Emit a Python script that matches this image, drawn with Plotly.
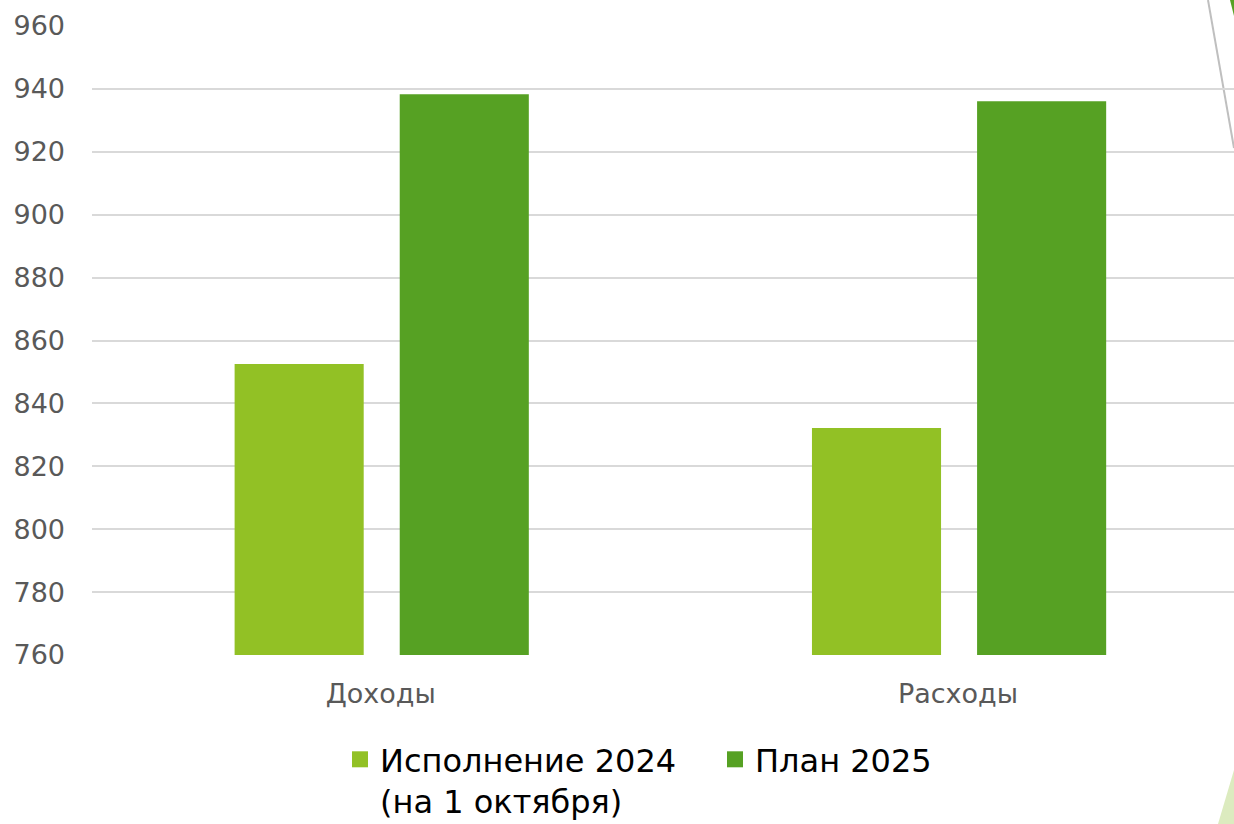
import plotly.graph_objects as go

categories = ["Доходы", "Расходы"]
series_names = ["Исполнение 2024<br>(на 1 октября)", "План 2025"]
values_2024 = [852.5, 832.2]
values_2025 = [938.3, 936.1]
y_ticks = [760, 780, 800, 820, 840, 860, 880, 900, 920, 940, 960]

colors = ["#92C125", "#56A123"]
FONT = "DejaVu Sans"

W, H = 1234, 824
ML, MR, MT, MB = 92, 0, 26, 169

fig = go.Figure()
bar_w = 0.2236
offsets = [-0.2530, 0.0330]
for name, vals, col, off in zip(series_names, [values_2024, values_2025], colors, offsets):
    fig.add_trace(go.Bar(
        x=categories, y=vals, name=name,
        marker=dict(color=col, line=dict(width=0)),
        width=bar_w, offset=off, showlegend=False,
    ))
    # legend proxy with larger square symbol
    fig.add_trace(go.Scatter(
        x=[None], y=[None], mode="markers", name=name,
        marker=dict(symbol="square", size=17, color=col),
        showlegend=True,
    ))

fig.update_layout(
    width=W, height=H,
    margin=dict(l=ML, r=MR, t=MT, b=MB, pad=0, autoexpand=False),
    plot_bgcolor="white", paper_bgcolor="white",
    barmode="overlay",
    font=dict(family=FONT, color="#595959", size=27),
    legend=dict(
        orientation="h", x=(340 - ML) / (W - ML - MR), xanchor="left",
        y=-(732 - (H - MB)) / (H - MT - MB), yanchor="top",
        font=dict(family=FONT, size=32, color="#000000"),
        itemsizing="trace", valign="top", entrywidth=330, tracegroupgap=0,
        itemwidth=30,
    ),
    xaxis=dict(
        range=[-0.5, 1.478], showgrid=False, zeroline=False,
        showline=False, ticks="", ticklabelstandoff=20,
        tickfont=dict(size=27, color="#595959", family=FONT),
        fixedrange=True,
    ),
    yaxis=dict(
        range=[760, 960], tickvals=y_ticks, showgrid=True,
        gridcolor="#D9D9D9", gridwidth=2, zeroline=False, showline=False,
        ticks="", ticklabelstandoff=26,
        tickfont=dict(size=27, color="#595959", family=FONT),
        fixedrange=True,
    ),
)

# decorative elements at the right edge (slide background)
fig.add_shape(type="line", xref="paper", yref="paper",
              x0=(1208 - ML) / (W - ML), y0=(H - MB) / (H - MT - MB) + 0.0,
              x1=(1234 - ML) / (W - ML), y1=((H - MB) - 148) / (H - MT - MB),
              line=dict(color="#BFBFBF", width=2), layer="below")
fig.add_shape(type="path", xref="paper", yref="paper",
              path="M {a},{b} L {c},{d} L {c},{b} Z".format(
                  a=(1218 - ML) / (W - ML), b=-(H - (H - MB)) / (H - MT - MB),
                  c=1.0, d=-(770 - (H - MB)) / (H - MT - MB)),
              fillcolor="#DCEBBF", line=dict(width=0), layer="below")
fig.add_shape(type="path", xref="paper", yref="paper",
              path="M {a},{b} L {c},{b} L {c},{d} Z".format(
                  a=(1230 - ML) / (W - ML), b=(H - MB) / (H - MT - MB),
                  c=1.0, d=((H - MB) - 16) / (H - MT - MB)),
              fillcolor="#56A123", line=dict(width=0), layer="below")

fig.write_html(
    "out.html",
    config={"displayModeBar": False},
    post_script="document.body.style.margin='0';document.body.style.overflow='hidden';",
)
